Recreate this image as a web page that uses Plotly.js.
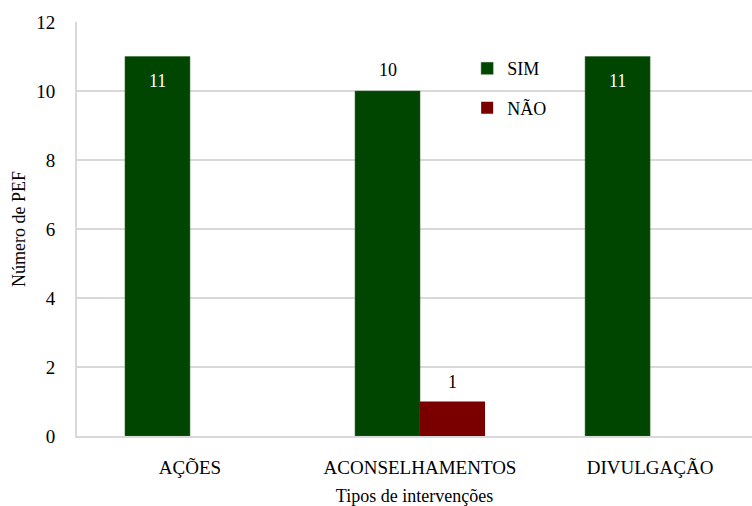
<!DOCTYPE html>
<html>
<head>
<meta charset="utf-8">
<script src="https://cdn.plot.ly/plotly-3.0.1.min.js"></script>
<style>html,body{margin:0;padding:0;background:#fff}#chart{width:752px;height:506px}</style>
</head>
<body>
<div id="chart"></div>
<script>
var categories = ['AÇÕES', 'ACONSELHAMENTOS', 'DIVULGAÇÃO'];
var simValues = [11, 10, 11];
var naoValues = [0, 1, 0];
var simLabelInside = [true, false, true];
var naoShowLabel = [false, true, false];
var yTicks = [0, 2, 4, 6, 8, 10, 12];

var font = "'Liberation Serif', 'Times New Roman', Times, serif";
var bargap = 0.435;
var barW = (1 - bargap) / 2;

var traces = [
  {
    type: 'bar', name: 'SIM', x: categories, y: simValues,
    marker: {color: '#004600', line: {color: '#2f6b2f', width: 0.5}},
    legendgroup: 'a', hoverinfo: 'none'
  },
  {
    type: 'bar', name: 'NÃO', x: categories, y: naoValues,
    marker: {color: '#7a0000'},
    legendgroup: 'b', hoverinfo: 'none'
  }
];

var annotations = [];
simValues.forEach(function (v, i) {
  annotations.push({
    x: i - barW / 2, y: v, xref: 'x', yref: 'y', text: String(v), showarrow: false,
    yshift: simLabelInside[i] ? -24 : 21,
    font: {family: font, size: 18, color: simLabelInside[i] ? '#ffffff' : '#000000'}
  });
});
naoValues.forEach(function (v, i) {
  if (!naoShowLabel[i]) return;
  annotations.push({
    x: i + barW / 2, y: v, xref: 'x', yref: 'y', text: String(v), showarrow: false,
    yshift: 20, font: {family: font, size: 18, color: '#000000'}
  });
});

var layout = {
  width: 752, height: 506,
  margin: {l: 77, r: 0, t: 22, b: 70},
  paper_bgcolor: '#ffffff', plot_bgcolor: '#ffffff',
  font: {family: font, size: 18, color: '#000000'},
  barmode: 'group', bargap: bargap, bargroupgap: 0,
  showlegend: true,
  legend: {x: 0.578, y: 0.932, xanchor: 'left', yanchor: 'top',
           traceorder: 'grouped', tracegroupgap: 13,
           font: {family: font, size: 18, color: '#000000'},
           bgcolor: 'rgba(0,0,0,0)', itemwidth: 30},
  annotations: annotations,
  xaxis: {
    type: 'category', range: [-0.491, 2.443],
    showgrid: false, showline: true, linecolor: '#d9d9d9', linewidth: 2,
    ticks: '', ticklabelstandoff: 13,
    tickfont: {family: font, size: 19, color: '#000000'},
    title: {text: 'Tipos de intervenções', font: {family: font, size: 18, color: '#000000'}, standoff: 13}
  },
  yaxis: {
    range: [0, 12], tickvals: yTicks, ticktext: yTicks.map(String),
    showgrid: true, gridcolor: '#d9d9d9', gridwidth: 1.5,
    showline: true, linecolor: '#d9d9d9', linewidth: 2,
    zeroline: false, ticks: '', ticklabelstandoff: 16,
    tickfont: {family: font, size: 19, color: '#000000'},
    title: {text: 'Número de PEF', font: {family: font, size: 18, color: '#000000'}, standoff: 6}
  }
};

Plotly.newPlot('chart', traces, layout, {displayModeBar: false, staticPlot: true});
</script>
</body>
</html>
